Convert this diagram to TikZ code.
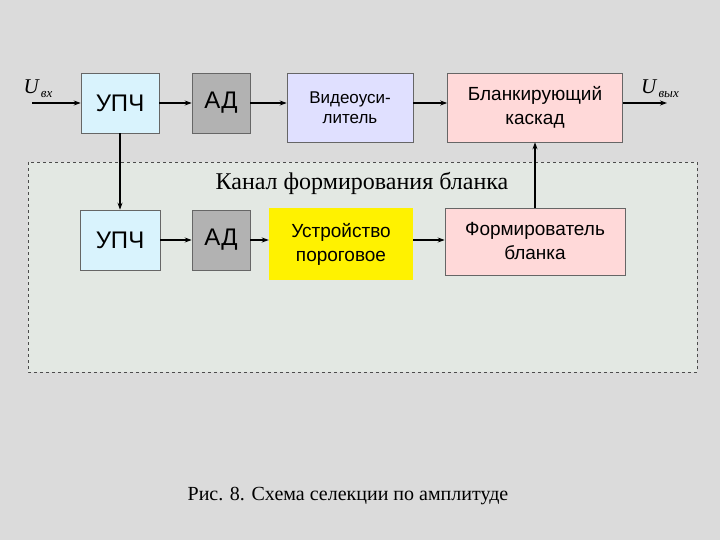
\documentclass[tikz,border=0pt]{standalone}
\usepackage{fontspec}
\setmainfont{Liberation Serif}
\newfontfamily\sans{Liberation Sans}
\usetikzlibrary{arrows.meta}
\begin{document}
\begin{tikzpicture}[x=1pt,y=-1pt,
 blk/.style={draw=black!60,line width=0.6pt,inner sep=0pt},
 arr/.style={-{Stealth[length=7pt,width=5pt]},line width=1.4pt}]
\useasboundingbox (0,0) rectangle (720,540);
\fill[gray!28] (0,0) rectangle (720,540);
\draw[dashed,black!70,fill=green!10!gray!20] (28,162) rectangle (697,372);
\node[blk,fill=cyan!15,minimum width=78pt,minimum height=60pt,font=\sans\fontsize{24}{26}\selectfont] (u1) at (120,103) {УПЧ};
\node[blk,fill=gray!60,minimum width=58pt,minimum height=60pt,font=\sans\fontsize{24}{26}\selectfont] (a1) at (221,103) {АД};
\node[blk,fill=blue!12,minimum width=126pt,minimum height=69pt,align=center,font=\sans\fontsize{17}{20}\selectfont] (v) at (350,107.5) {Видеоуси-\\литель};
\node[blk,fill=pink!60,minimum width=175pt,minimum height=69pt,align=center,font=\sans\fontsize{19}{24}\selectfont] (b) at (535,107.5) {Бланкирующий\\каскад};
\node[blk,fill=cyan!15,minimum width=80pt,minimum height=60pt,font=\sans\fontsize{24}{26}\selectfont] (u2) at (120,240) {УПЧ};
\node[blk,fill=gray!60,minimum width=58pt,minimum height=60pt,font=\sans\fontsize{24}{26}\selectfont] (a2) at (221,240) {АД};
\node[fill=yellow,minimum width=144pt,minimum height=72pt,align=center,inner sep=0pt,font=\sans\fontsize{19}{24}\selectfont] (p) at (341,244) {Устройство\\пороговое};
\node[blk,fill=pink!60,minimum width=180pt,minimum height=67pt,align=center,font=\sans\fontsize{19}{24}\selectfont] (f) at (535,241.5) {Формирователь\\бланка};
\node[font=\fontsize{24}{26}\selectfont] (t) at (362,183) {Канал формирования бланка};
\node[font=\fontsize{20}{22}\selectfont] (c) at (348,496) {Рис. 8. Схема селекции по амплитуде};
\node (uin) at (38,89) {\fontsize{21}{22}\selectfont\itshape U\raisebox{-4pt}{\fontsize{13}{13}\selectfont\,вх}};
\node (uout) at (660,89) {\fontsize{21}{22}\selectfont\itshape U\raisebox{-4pt}{\fontsize{13}{13}\selectfont\,вых}};
\coordinate (i0) at (32,103);
\coordinate (o1) at (667,103);
\draw[arr] (i0) -- (u1);
\draw[arr] (u1) -- (a1);
\draw[arr] (a1) -- (v.west |- a1);
\draw[arr] (v.east |- a1) -- (b.west |- a1);
\draw[arr] (b.east |- a1) -- (o1);
\draw[arr] (u1) -- (u2);
\draw[arr] (u2) -- (a2);
\draw[arr] (a2) -- (p.west |- a2);
\draw[arr] (p.east |- a2) -- (f.west |- a2);
\draw[arr] (f) -- (b);
\end{tikzpicture}
\end{document}
